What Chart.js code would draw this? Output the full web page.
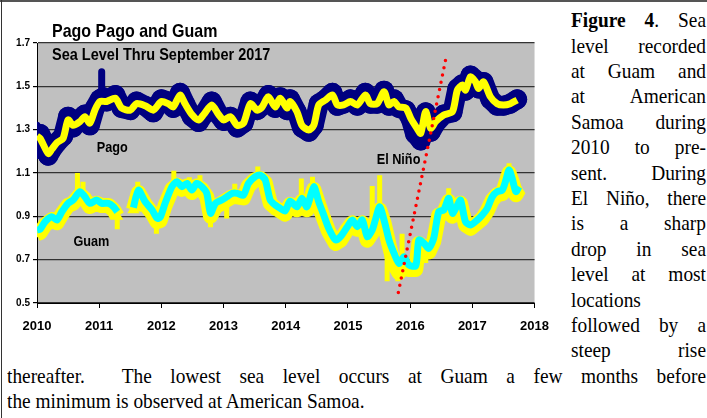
<!DOCTYPE html>
<html>
<head>
<meta charset="utf-8">
<script src="https://cdn.jsdelivr.net/npm/chart.js@4.4.1/dist/chart.umd.min.js"></script>
<style>
html, body { margin: 0; padding: 0; background: #fff; }
#page { position: relative; width: 707px; height: 418px; overflow: hidden; }
#lineTop { position: absolute; left: 0; top: 0; width: 707px; height: 2px; background: #555; }
#lineLeft { position: absolute; left: 1px; top: 0; width: 1px; height: 418px; background: #333; }
#chartBox { position: absolute; left: 0; top: 0; width: 560px; height: 340px; }
.ln {
    position: absolute;
    font-family: "Liberation Serif", "Times New Roman", serif;
    font-size: 22px;
    line-height: 25.4px;
    height: 25.4px;
    color: #000;
    text-align: justify;
    text-align-last: justify;
    transform-origin: 0 0;
    transform: scaleX(0.88);
}
.ln.left { text-align: left; text-align-last: left; }
</style>
</head>
<body>
<div id="page">
    <div id="chartBox"><canvas id="chart" width="560" height="340"></canvas></div>
    <div id="caption"></div>
    <div id="lineTop"></div>
    <div id="lineLeft"></div>
</div>
<script>
// DATA (decimal years, metres)
// Pago Pago - smoothed (yellow)
const pagoT = [2010.00, 2010.05, 2010.18, 2010.24, 2010.32, 2010.42, 2010.50, 2010.58, 2010.69, 2010.77, 2010.85, 2010.93,
    2011.01, 2011.12, 2011.26, 2011.36, 2011.50, 2011.60, 2011.74, 2011.87, 2012.00, 2012.11, 2012.19, 2012.30,
    2012.38, 2012.49, 2012.60, 2012.68, 2012.81, 2012.92, 2013.00, 2013.11, 2013.22, 2013.32, 2013.43, 2013.54,
    2013.62, 2013.72, 2013.83, 2013.91, 2014.02, 2014.07, 2014.18, 2014.26, 2014.37, 2014.45, 2014.53, 2014.64,
    2014.75, 2014.83, 2014.93, 2015.04, 2015.15, 2015.28, 2015.36, 2015.47, 2015.58, 2015.66, 2015.74, 2015.82,
    2015.93, 2016.01, 2016.11, 2016.17, 2016.25, 2016.33, 2016.41, 2016.54, 2016.68, 2016.76, 2016.84, 2016.89,
    2016.97, 2017.05, 2017.10, 2017.18, 2017.29, 2017.40, 2017.50, 2017.61, 2017.72];
const pagoV = [1.27, 1.26, 1.19, 1.21, 1.24, 1.26, 1.345, 1.32, 1.337, 1.36, 1.33, 1.39,
    1.43, 1.43, 1.445, 1.40, 1.39, 1.42, 1.41, 1.39, 1.43, 1.42, 1.405, 1.46,
    1.42, 1.37, 1.345, 1.37, 1.414, 1.37, 1.345, 1.36, 1.32, 1.33, 1.42, 1.39,
    1.405, 1.452, 1.405, 1.445, 1.40, 1.43, 1.383, 1.32, 1.298, 1.32, 1.414, 1.437,
    1.46, 1.414, 1.414, 1.43, 1.414, 1.46, 1.42, 1.42, 1.475, 1.414, 1.43, 1.405,
    1.40, 1.352, 1.306, 1.283, 1.383, 1.306, 1.337, 1.368, 1.383, 1.483, 1.506, 1.483,
    1.544, 1.521, 1.49, 1.521, 1.452, 1.42, 1.414, 1.42, 1.437];

// Pago Pago - daily readings (navy band)
const pagoRawT = [2010.00, 2010.05, 2010.12, 2010.18, 2010.24, 2010.32, 2010.42, 2010.50, 2010.58, 2010.69, 2010.77,
    2010.85, 2010.93, 2011.01, 2011.07, 2011.12, 2011.26, 2011.36, 2011.50, 2011.60, 2011.74, 2011.87,
    2012.00, 2012.11, 2012.19, 2012.30, 2012.38, 2012.49, 2012.60, 2012.68, 2012.81, 2012.92, 2013.00, 2013.11,
    2013.22, 2013.32, 2013.43, 2013.54, 2013.62, 2013.72, 2013.83, 2013.91, 2014.02, 2014.07, 2014.18, 2014.26,
    2014.37, 2014.45, 2014.53, 2014.64, 2014.75, 2014.83, 2014.93, 2015.04, 2015.15, 2015.28, 2015.36, 2015.47,
    2015.58, 2015.66, 2015.74, 2015.82, 2015.93, 2016.01, 2016.08, 2016.12, 2016.17, 2016.25, 2016.33, 2016.41,
    2016.54, 2016.68, 2016.76, 2016.84, 2016.89, 2016.97, 2017.05, 2017.10, 2017.18, 2017.29, 2017.40, 2017.50,
    2017.61, 2017.72];
const pagoRawV = [1.28, 1.28, 1.24, 1.18, 1.21, 1.24, 1.27, 1.36, 1.31, 1.35, 1.37,
    1.32, 1.40, 1.44, 1.45, 1.43, 1.46, 1.40, 1.39, 1.43, 1.41, 1.38,
    1.44, 1.43, 1.40, 1.47, 1.42, 1.36, 1.335, 1.37, 1.43, 1.37, 1.34, 1.36,
    1.31, 1.33, 1.43, 1.39, 1.41, 1.46, 1.40, 1.45, 1.39, 1.44, 1.38, 1.31,
    1.29, 1.32, 1.42, 1.44, 1.47, 1.41, 1.42, 1.44, 1.41, 1.47, 1.42, 1.42,
    1.48, 1.41, 1.44, 1.40, 1.39, 1.35, 1.28, 1.27, 1.25, 1.38, 1.29, 1.33,
    1.37, 1.38, 1.49, 1.51, 1.48, 1.55, 1.53, 1.49, 1.52, 1.44, 1.41, 1.41,
    1.42, 1.44];

// Pago Pago - isolated daily extremes
const pagoSpikeT = [2010.00, 2011.04];
const pagoSpikeLo = [1.18, 1.44];
const pagoSpikeHi = [1.32, 1.567];

// Guam - smoothed (cyan), null = data gap
const guamT = [2010.00, 2010.05, 2010.13, 2010.24, 2010.32, 2010.40, 2010.50, 2010.58, 2010.69, 2010.77, 2010.85, 2010.96,
    2011.04, 2011.15, 2011.23, 2011.29, 2011.42, 2011.55, 2011.63, 2011.74, 2011.85, 2011.93, 2011.98, 2012.06,
    2012.17, 2012.25, 2012.33, 2012.41, 2012.49, 2012.57, 2012.65, 2012.73, 2012.79, 2012.87, 2012.97, 2013.05,
    2013.14, 2013.22, 2013.32, 2013.40, 2013.51, 2013.59, 2013.67, 2013.75, 2013.83, 2013.91, 2013.99, 2014.07,
    2014.18, 2014.26, 2014.34, 2014.45, 2014.53, 2014.61, 2014.69, 2014.80, 2014.88, 2014.99, 2015.07, 2015.15,
    2015.23, 2015.31, 2015.39, 2015.44, 2015.51, 2015.58, 2015.66, 2015.74, 2015.82, 2015.90, 2015.98, 2016.09,
    2016.14, 2016.22, 2016.30, 2016.38, 2016.46, 2016.54, 2016.62, 2016.68, 2016.76, 2016.81, 2016.89, 2016.97,
    2017.08, 2017.16, 2017.24, 2017.32, 2017.40, 2017.48, 2017.54, 2017.59, 2017.64, 2017.70, 2017.75];
const guamV = [0.837, 0.84, 0.875, 0.898, 0.883, 0.921, 0.96, 0.975, 1.014, 0.99, 0.96, 0.975,
    0.96, 0.96, 0.944, 0.921, null, 0.94, 1.021, 0.967, 0.929, 0.891, 0.895, 0.96,
    1.037, 1.06, 1.037, 1.052, 1.021, 1.052, 1.037, 1.006, 0.914, 0.96, 0.975, 0.99,
    1.006, 1.006, 0.998, 1.052, 1.083, 1.09, 1.068, 0.975, 0.952, 0.937, 0.925, 0.97,
    0.944, 0.983, 0.944, 1.037, 0.967, 0.906, 0.845, 0.791, 0.806, 0.852, 0.883, 0.852,
    0.883, 0.806, 0.837, 0.883, 0.944, 0.883, 0.791, 0.73, 0.683, 0.714, 0.675, 0.672,
    0.791, 0.776, 0.752, 0.80, 0.921, 0.929, 0.983, 0.914, 0.952, 0.975, 0.875, 0.86,
    0.883, 0.906, 0.937, 0.99, 1.014, 1.021, 1.068, 1.114, 1.075, 1.014, 1.037];

// Guam - daily readings (yellow band), same dates as guamT
const guamRawV = [0.82, 0.825, 0.86, 0.885, 0.87, 0.91, 0.95, 0.96, 1.00, 0.98, 0.945, 0.96,
    0.95, 0.95, 0.93, 0.90, null, 0.93, 1.01, 0.955, 0.915, 0.875, 0.88, 0.95,
    1.025, 1.045, 1.025, 1.04, 1.01, 1.04, 1.025, 0.99, 0.90, 0.945, 0.96, 0.975,
    0.99, 0.99, 0.985, 1.04, 1.07, 1.075, 1.055, 0.96, 0.94, 0.925, 0.91, 0.955,
    0.93, 0.97, 0.93, 1.025, 0.955, 0.89, 0.83, 0.775, 0.79, 0.84, 0.87, 0.84,
    0.87, 0.79, 0.825, 0.87, 0.93, 0.87, 0.77, 0.68, 0.64, 0.67, 0.655, 0.655,
    0.775, 0.76, 0.735, 0.785, 0.905, 0.915, 0.97, 0.90, 0.94, 0.96, 0.86, 0.845,
    0.87, 0.89, 0.925, 0.975, 1.00, 1.005, 1.055, 1.10, 1.06, 1.00, 1.025];

// Guam - isolated daily extremes
const guamSpikeT = [2010.65, 2010.74, 2011.29, 2011.62, 2011.92, 2012.20, 2012.45, 2012.62, 2012.79, 2013.05,
    2013.18, 2013.55, 2013.80, 2014.25, 2014.43, 2014.80, 2015.39, 2015.51, 2015.63, 2015.80,
    2015.87, 2016.25, 2016.62, 2017.59];
const guamSpikeLo = [0.99, 0.98, 0.84, 0.98, 0.82, 1.03, 1.03, 1.03, 0.85, 0.89,
    1.00, 1.08, 0.91, 0.97, 1.00, 0.75, 0.83, 0.93, 0.60, 0.60,
    0.70, 0.685, 0.97, 1.10];
const guamSpikeHi = [1.10, 1.06, 0.92, 1.06, 0.89, 1.11, 1.08, 1.09, 0.92, 0.98,
    1.05, 1.13, 0.96, 1.075, 1.083, 0.80, 1.04, 1.09, 0.80, 0.70,
    0.82, 0.77, 1.03, 1.145];

// El Nino trend (red dotted)
const ninoT = [2015.81, 2016.58];
const ninoV = [0.548, 1.637];

// Axis ticks
const xMin = 2010, xMax = 2018, xStep = 1;
const yMin = 0.5, yMax = 1.7, yStep = 0.2;

// In-plot labels (anchored in data units)
const noteText = ['Pago', 'Guam', 'El Niño'];
const noteT = [2011.21, 2010.874, 2015.813];
const noteV = [1.221, 0.786, 1.166];

const titleText = 'Pago Pago and Guam';
const subtitleText = 'Sea Level Thru September 2017';

// Caption lines (the figure text flows round the chart)
const captionSide = [
    '<b>Figure 4</b>. Sea', 'level recorded', 'at Guam and', 'at American', 'Samoa during',
    '2010 to pre-', 'sent. During', 'El Niño, there', 'is a sharp', 'drop in sea',
    'level at most', 'locations', 'followed by a', 'steep rise'
];
const captionBottom = [
    'thereafter.&nbsp; The lowest sea level occurs at Guam a few months before',
    'the minimum is observed at American Samoa.'
];

// HELPERS
const pts = (ts, vs) => ts.map((t, i) => ({ x: t, y: vs[i] }));

// vertical strokes lo->hi, separated by gaps
function spikes(ts, lo, hi) {
    const out = [];
    ts.forEach((t, i) => {
        out.push({ x: t, y: lo[i] }, { x: t, y: hi[i] }, { x: t, y: null });
    });
    return out;
}

function buildCaption() {
    const box = document.getElementById('caption');
    const top0 = 7.2, pitch = 25.4, sx = 0.88;
    const addLine = (txt, i, left, width, alignLeft) => {
        const d = document.createElement('div');
        d.className = 'ln' + (alignLeft ? ' left' : '');
        d.style.left = left + 'px';
        d.style.width = (width / sx) + 'px';
        d.style.top = (top0 + i * pitch) + 'px';
        d.innerHTML = txt;
        box.appendChild(d);
    };
    captionSide.forEach((txt, i) => addLine(txt, i, 571, 135, txt === 'locations'));
    captionBottom.forEach((txt, j) => addLine(txt, captionSide.length + j, 7, 699, j === captionBottom.length - 1));
}

// PLUGINS
const plotBg = {
    id: 'plotBg',
    beforeDraw(chart) {
        const { ctx, chartArea: a } = chart;
        ctx.save();
        ctx.fillStyle = '#c0c0c0';
        ctx.fillRect(a.left, a.top, a.right - a.left, a.bottom - a.top);
        ctx.restore();
    }
};

function stretchText(ctx, text, x, y, font, sy, align) {
    ctx.save();
    ctx.translate(x, y);
    ctx.scale(1, sy);
    ctx.font = font;
    ctx.textAlign = align || 'left';
    ctx.fillStyle = '#000';
    ctx.fillText(text, 0, 0);
    ctx.restore();
}

const chartText = {
    id: 'chartText',
    afterDraw(chart) {
        const { ctx, scales } = chart;
        ctx.textBaseline = 'alphabetic';
        stretchText(ctx, titleText, 52, 36.5, 'bold 16px "Liberation Sans", Arial, sans-serif', 1.18);
        stretchText(ctx, subtitleText, 52, 60, 'bold 14.5px "Liberation Sans", Arial, sans-serif', 1.2);
        noteText.forEach((txt, i) => {
            const x = scales.x.getPixelForValue(noteT[i]);
            const y = scales.y.getPixelForValue(noteV[i]);
            stretchText(ctx, txt, x, y + 5, 'bold 12.7px "Liberation Sans", Arial, sans-serif', 1.12, 'center');
        });
    }
};

// CHART
Chart.defaults.font.family = '"Liberation Sans", Arial, sans-serif';
Chart.defaults.color = '#000';

buildCaption();

new Chart(document.getElementById('chart').getContext('2d'), {
    type: 'line',
    data: {
        datasets: [
            {
                label: 'El Niño',
                data: pts(ninoT, ninoV),
                borderColor: '#ff0000',
                borderWidth: 3.5,
                borderDash: [0, 7.4],
                borderCapStyle: 'round',
                pointRadius: 0,
                order: 0
            },
            {
                label: 'Pago smoothed',
                data: pts(pagoT, pagoV),
                borderColor: '#ffff00',
                borderWidth: 7,
                tension: 0.25,
                pointRadius: 0,
                order: 1
            },
            {
                label: 'Pago daily',
                data: pts(pagoRawT, pagoRawV),
                borderColor: '#000080',
                borderWidth: 20,
                borderJoinStyle: 'round',
                borderCapStyle: 'round',
                pointRadius: 10,
                pointBorderWidth: 0,
                pointBackgroundColor: '#000080',
                order: 2
            },
            {
                label: 'Pago extremes',
                data: spikes(pagoSpikeT, pagoSpikeLo, pagoSpikeHi),
                borderColor: '#000080',
                borderWidth: 7,
                borderCapStyle: 'round',
                spanGaps: false,
                pointRadius: 0,
                order: 2
            },
            {
                label: 'Guam smoothed',
                data: pts(guamT, guamV),
                borderColor: '#00ffff',
                borderWidth: 7,
                tension: 0.25,
                spanGaps: false,
                pointRadius: 0,
                order: 1
            },
            {
                label: 'Guam daily',
                data: pts(guamT, guamRawV),
                borderColor: '#ffff00',
                borderWidth: 15,
                borderJoinStyle: 'round',
                spanGaps: false,
                pointStyle: 'triangle',
                pointRadius: 7,
                pointBorderWidth: 0,
                pointBackgroundColor: '#ffff00',
                order: 2
            },
            {
                label: 'Guam extremes',
                data: spikes(guamSpikeT, guamSpikeLo, guamSpikeHi),
                borderColor: '#ffff00',
                borderWidth: 5,
                borderCapStyle: 'butt',
                spanGaps: false,
                pointRadius: 0,
                order: 2
            }
        ]
    },
    options: {
        responsive: false,
        animation: false,
        events: [],
        layout: { padding: { left: 0, top: 43, right: 25, bottom: 0 } },
        plugins: {
            legend: { display: false },
            tooltip: { enabled: false }
        },
        scales: {
            x: {
                type: 'linear',
                min: xMin,
                max: xMax,
                afterFit: s => { s.height = 37; },
                ticks: {
                    stepSize: xStep,
                    padding: 11,
                    maxRotation: 0,
                    autoSkip: false,
                    font: { size: 13, weight: 'bold' },
                    callback: v => String(v)
                },
                grid: { drawOnChartArea: false, drawTicks: true, tickLength: 5, color: '#000' },
                border: { display: true, color: '#000', width: 1 }
            },
            y: {
                min: yMin,
                max: yMax,
                afterFit: s => { s.width = 37; },
                ticks: {
                    stepSize: yStep,
                    padding: 3,
                    font: { size: 10, weight: 'bold' },
                    callback: v => v.toFixed(1)
                },
                grid: { color: '#333', lineWidth: 1.2, tickLength: 4, tickColor: '#000' },
                border: { display: true, color: '#000', width: 1 }
            }
        }
    },
    plugins: [plotBg, chartText]
});
</script>
</body>
</html>
